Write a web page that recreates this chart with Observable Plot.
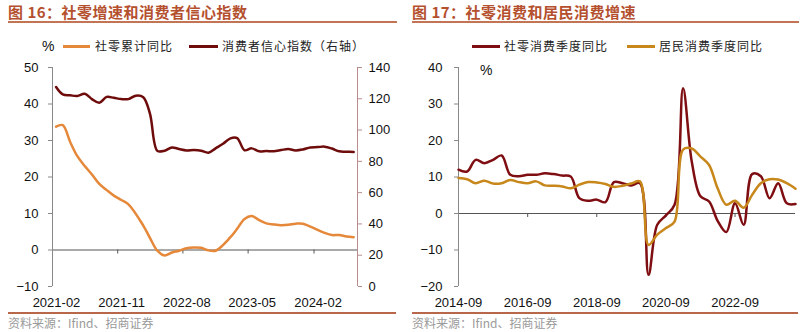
<!DOCTYPE html>
<html><head><meta charset="utf-8">
<script src="https://cdn.jsdelivr.net/npm/d3@7"></script>
<script src="https://cdn.jsdelivr.net/npm/@observablehq/plot@0.6"></script>
<style>
body{margin:0;background:#fff;width:800px;height:332px;overflow:hidden;position:relative;font-family:"Liberation Sans",Arial,sans-serif;}
.panel{position:absolute;top:0;width:400px;height:332px;}
.title{position:absolute;top:1px;font-family:"Noto Sans CJK SC";font-weight:bold;font-size:15px;color:#b4502e;white-space:nowrap;letter-spacing:0.5px}
.rule{position:absolute;height:1.5px;background:#c27455;}
.leg{position:absolute;font-family:"Noto Sans CJK SC";font-size:12px;letter-spacing:1px;color:#222;white-space:nowrap;line-height:14px;top:39px}
.sw{position:absolute;height:2.5px;top:45px}
.pct{position:absolute;font-family:"Liberation Sans",Arial,sans-serif;font-size:14px;color:#111;line-height:14px}
.src{position:absolute;top:316px;font-family:"Noto Sans CJK SC";font-size:12px;color:#9a9a9a;white-space:nowrap;line-height:14px}
.chart{position:absolute;top:55px;left:0}
</style></head>
<body>
<div class="panel" id="p1" style="left:0">
  <div class="title" style="left:8px">图 16：社零增速和消费者信心指数</div>
  <div class="rule" style="left:8px;width:389px;top:21px"></div>
  <div class="pct" style="left:42px;top:39px">%</div>
  <div class="sw" style="left:63px;width:27px;background:#e6883a"></div>
  <div class="leg" style="left:95px">社零累计同比</div>
  <div class="sw" style="left:189px;width:29px;background:#6e0b0b"></div>
  <div class="leg" style="left:222px">消费者信心指数（右轴）</div>
  <div class="chart" id="c1"></div>
  <div class="rule" style="left:8px;width:388px;top:312px;background:#b8674a"></div>
  <div class="src" style="left:8px">资料来源：Ifind、招商证券</div>
</div>
<div class="panel" id="p2" style="left:400px">
  <div class="title" style="left:12px">图 17：社零消费和居民消费增速</div>
  <div class="rule" style="left:12px;width:387px;top:21px"></div>
  <div class="sw" style="left:72px;width:28px;background:#7f0e12"></div>
  <div class="leg" style="left:104px">社零消费季度同比</div>
  <div class="sw" style="left:227px;width:28px;background:#c8871a"></div>
  <div class="leg" style="left:259px">居民消费季度同比</div>
  <div class="pct" style="left:80px;top:63px">%</div>
  <div class="chart" id="c2"></div>
  <div class="rule" style="left:12px;width:386px;top:312px;background:#b8674a"></div>
  <div class="src" style="left:12px">资料来源：Ifind、招商证券</div>
</div>
<script>
// ---------- Figure 16 data ----------
const confMonths = ["2021-02","2021-03","2021-04","2021-05","2021-06","2021-07","2021-08","2021-09","2021-10","2021-11","2021-12",
"2022-01","2022-02","2022-03","2022-04","2022-05","2022-06","2022-07","2022-08","2022-09","2022-10","2022-11","2022-12",
"2023-01","2023-02","2023-03","2023-04","2023-05","2023-06","2023-07","2023-08","2023-09","2023-10","2023-11","2023-12",
"2024-01","2024-02","2024-03","2024-04","2024-05","2024-06","2024-07"];
const confIndex = [127.5,122.8,122.2,121.8,123.2,119.8,117.5,121.2,120.6,119.8,119.8,
122.0,121.0,110.5,86.7,86.8,88.9,87.9,87.0,87.2,86.8,85.5,88.3,
91.2,94.7,94.9,87.1,88.3,86.4,86.6,86.5,87.2,87.9,87.0,87.6,
88.9,89.1,89.4,88.2,86.4,86.2,86.0];
const retailMonths = ["2021-02","2021-03","2021-04","2021-05","2021-06","2021-07","2021-08","2021-09","2021-10","2021-11","2021-12",
"2022-02","2022-03","2022-04","2022-05","2022-06","2022-07","2022-08","2022-09","2022-10","2022-11","2022-12",
"2023-02","2023-03","2023-04","2023-05","2023-06","2023-07","2023-08","2023-09","2023-10","2023-11","2023-12",
"2024-02","2024-03","2024-04","2024-05","2024-06","2024-07"];
const retailYoY = [33.8,34.2,29.6,25.7,23.0,20.7,18.1,16.4,14.9,13.7,12.5,
6.7,3.3,-0.2,-1.5,-0.7,-0.2,0.5,0.7,0.6,-0.1,-0.2,
3.5,5.8,8.5,9.3,8.2,7.3,7.0,6.8,6.9,7.2,7.2,
5.5,4.7,4.1,4.1,3.7,3.5];
const leftTicks = [-10,0,10,20,30,40,50];
const rightTicks = [0,20,40,60,80,100,120,140];
const xTickLabels16 = ["2021-02","2021-11","2022-08","2023-05","2024-02"];
const xDomain16 = ["2021-02","2024-08"];

// ---------- Figure 17 data ----------
const quarters = ["2014-09","2014-12","2015-03","2015-06","2015-09","2015-12","2016-03","2016-06","2016-09","2016-12",
"2017-03","2017-06","2017-09","2017-12","2018-03","2018-06","2018-09","2018-12","2019-03","2019-06",
"2019-09","2019-12","2020-03","2020-06","2020-09","2020-12","2021-03","2021-06","2021-09","2021-12",
"2022-03","2022-06","2022-09","2022-12","2023-03","2023-06","2023-09","2023-12","2024-03","2024-06"];
const retailQ = [12.0,11.5,14.7,13.8,14.7,15.9,10.6,10.2,10.6,10.6,
11.0,10.8,10.4,10.1,4.2,3.5,3.8,3.1,8.6,8.3,
7.7,8.3,-16.8,-3.1,-0.5,2.4,34.3,14.2,4.7,3.3,
-2.0,-5.1,2.8,-3.1,10.8,10.2,4.2,8.3,2.8,2.6];
const householdQ = [9.7,9.4,8.3,9.0,8.2,8.3,9.2,8.6,8.3,8.8,
7.7,7.6,7.4,6.9,7.9,8.6,8.5,8.1,7.3,7.6,
8.2,8.8,-8.6,-5.8,-4.0,-2.2,17.5,17.8,15.6,13.3,
6.9,2.4,3.5,1.6,5.1,8.3,9.4,9.3,8.3,6.8];
const yTicks17 = [-20,-10,0,10,20,30,40];
const xTickLabels17 = ["2014-09","2016-09","2018-09","2020-09","2022-09"];

// ---------- helpers ----------
const pm = d3.utcParse("%Y-%m");
const fm = d3.utcFormat("%Y-%m");
const mid = d => d3.utcDay.offset(d, 15);
const toLeft = v => -10 + v * 60 / 140;          // right-axis value -> left scale
const fromLeft = y => Math.round((y + 10) * 140 / 60);
const baseStyle = {fontFamily:'"Liberation Sans",Arial,sans-serif', fontSize:"13px", background:"transparent", overflow:"visible", color:"#111"};

const conf = confMonths.map((m,i) => ({date: pm(m), v: confIndex[i]}));
const retail = retailMonths.map((m,i) => ({date: pm(m), v: retailYoY[i]}));
const xt16 = xTickLabels16.map(pm);
const dom16 = xDomain16.map(pm);

const chart16 = Plot.plot({
  width:400, height:260, marginLeft:52, marginRight:43, marginTop:12, marginBottom:29,
  style: baseStyle,
  x:{type:"utc", domain: dom16},
  y:{domain:[-10,50]},
  marks:[
    Plot.ruleY([0], {stroke:"#555", strokeWidth:1}),
    Plot.ruleX(xt16, {y1:0, y2:0, insetBottom:-4, stroke:"#555"}),
    Plot.ruleX([dom16[0]], {stroke:"#888"}),
    Plot.ruleX([dom16[1]], {stroke:"#b88c8c"}),
    Plot.axisY({ticks:leftTicks, tickSize:4, tickPadding:10, stroke:"#888", fill:"#111", label:null}),
    Plot.axisY({anchor:"right", ticks:rightTicks.map(toLeft), tickFormat:fromLeft, tickSize:4, tickPadding:7, stroke:"#b88c8c", fill:"#111", label:null}),
    Plot.axisX({ticks:xt16, tickFormat:fm, tickSize:0, tickPadding:11, dx:4, fill:"#111", label:null}),
    Plot.line(conf, {x: d => mid(d.date), y: d => toLeft(d.v), stroke:"#6e0b0b", strokeWidth:2.5, curve:"catmull-rom"}),
    Plot.line(retail, {x: d => mid(d.date), y:"v", stroke:"#e6883a", strokeWidth:2.5, curve:"catmull-rom"})
  ]
});
document.getElementById("c1").appendChild(chart16);

const q = quarters.map((m,i) => ({date: pm(m), r: retailQ[i], h: householdQ[i]}));
const xt17 = xTickLabels17.map(pm);
const dom17 = [pm(quarters[0]), pm(quarters[quarters.length-1])];

const chart17 = Plot.plot({
  width:400, height:260, marginLeft:58, marginRight:5, marginTop:12, marginBottom:29,
  style: baseStyle,
  x:{type:"utc", domain: dom17},
  y:{domain:[-20,40]},
  marks:[
    Plot.ruleY([0], {stroke:"#555", strokeWidth:1}),
    Plot.ruleX(xt17, {y1:0, y2:0, insetBottom:-4, stroke:"#555"}),
    Plot.ruleX([dom17[0]], {stroke:"#888"}),
    Plot.axisY({ticks:yTicks17, tickSize:4, tickPadding:12, stroke:"#888", fill:"#111", label:null}),
    Plot.axisX({ticks:xt17, tickFormat:fm, tickSize:0, tickPadding:11, fill:"#111", label:null}),
    Plot.line(q, {x:"date", y:"r", stroke:"#7f0e12", strokeWidth:2.5, curve:"catmull-rom"}),
    Plot.line(q, {x:"date", y:"h", stroke:"#c8871a", strokeWidth:2.5, curve:"catmull-rom"})
  ]
});
document.getElementById("c2").appendChild(chart17);
</script>
</body></html>
